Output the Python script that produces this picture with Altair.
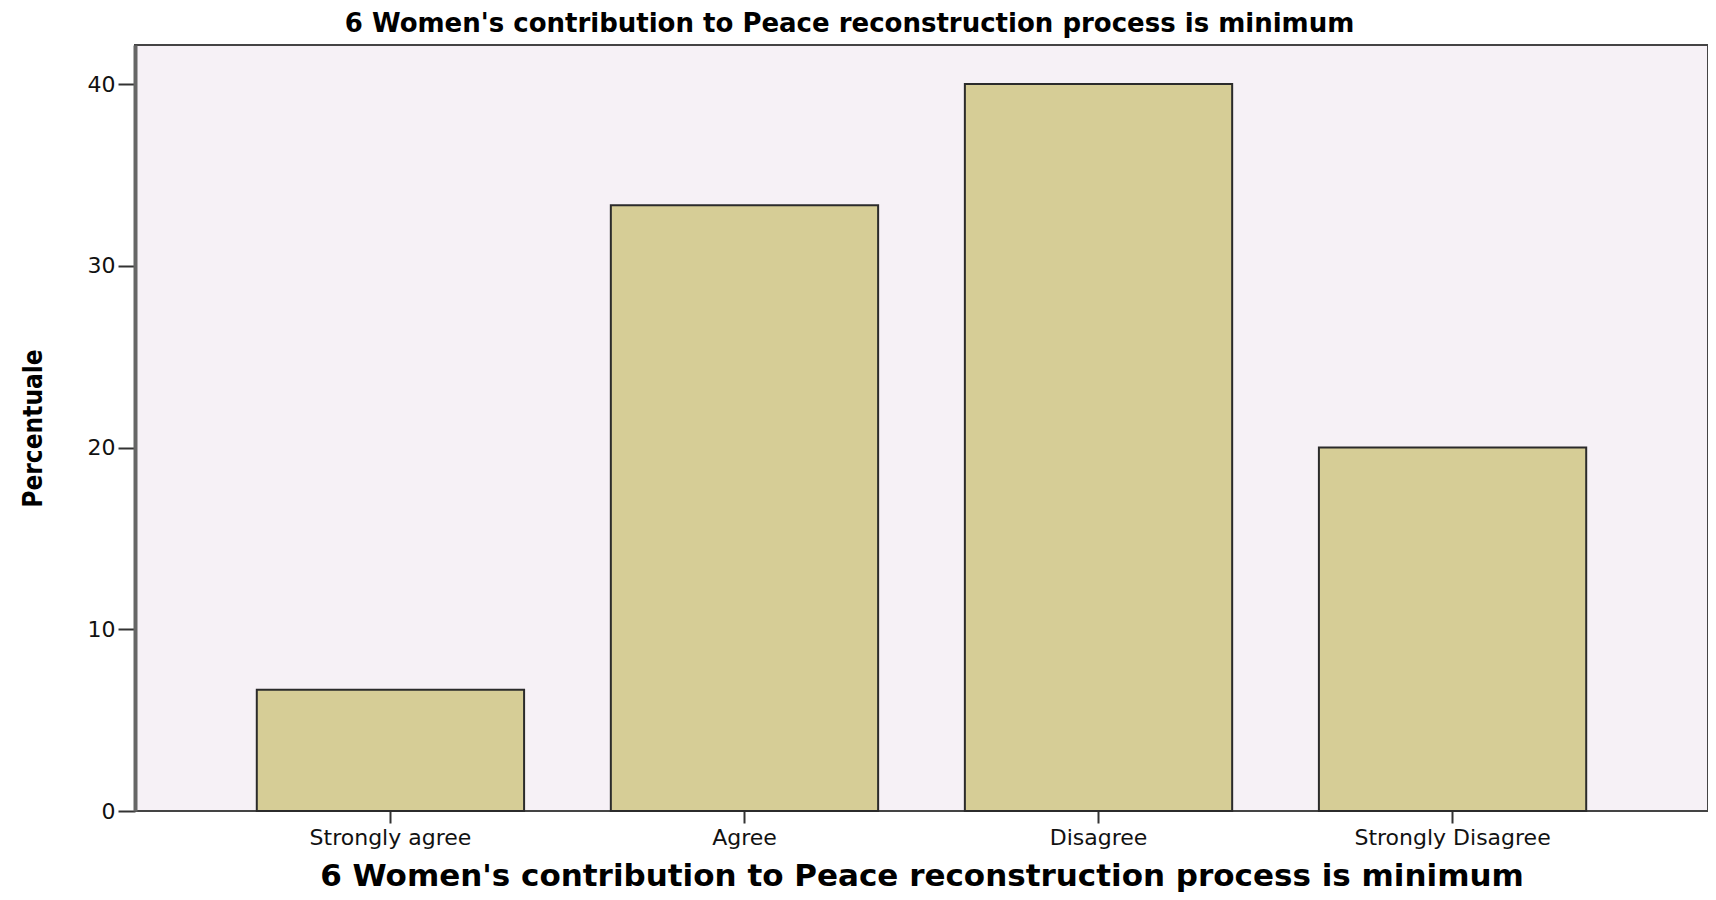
import altair as alt
import pandas as pd

categories = ["Strongly agree", "Agree", "Disagree", "Strongly Disagree"]
percentages = [6.67, 33.33, 40.0, 20.0]
y_ticks = [0, 10, 20, 30, 40]
title_text = "6 Women's contribution to Peace reconstruction process is minimum"
y_title = "Percentuale"

df = pd.DataFrame({"category": categories, "pct": percentages})

chart = alt.Chart(df).mark_bar(
    color="#D6CD96", stroke="#2B2B2B", strokeWidth=2
).encode(
    x=alt.X(
        "category:N", sort=categories,
        scale=alt.Scale(paddingInner=0.245, paddingOuter=0.344),
        axis=alt.Axis(
            title=title_text, labelAngle=0, labelFont="DejaVu Sans", labelFontSize=22,
            labelColor="#111", labelLimit=0, tickSize=12, tickWidth=2, tickColor="#333",
            domain=False, labelPadding=4, titleFont="DejaVu Sans", titleFontSize=31,
            titleFontWeight="bold", titleColor="#000", titleBaseline="alphabetic", titleY=74,
        ),
    ),
    y=alt.Y(
        "pct:Q", scale=alt.Scale(domain=[0, 42.15], nice=False),
        axis=alt.Axis(
            title=y_title, values=y_ticks, grid=False, labelFont="DejaVu Sans", labelFontSize=22,
            labelColor="#111", tickSize=17, tickWidth=2, tickColor="#333", labelPadding=3,
            domain=True, domainWidth=4, domainColor="#666",
            titleFont="DejaVu Sans Condensed, DejaVu Sans", titleFontSize=26, titleFontWeight="bold",
            titleColor="#000", titleX=-102, titleY=383, titleAngle=270, titleAlign="center",
            titleBaseline="middle",
        ),
    ),
).properties(
    width=1573, height=766,
    title=alt.TitleParams(
        text=title_text, font="DejaVu Sans", fontSize=26, fontWeight="bold", color="#000",
        anchor="middle", frame="group", dx=-72, offset=8,
    ),
    autosize=alt.AutoSizeParams(type="none"),
    padding={"left": 127, "top": 37, "right": 0, "bottom": 81},
).configure_view(fill="#F6F1F6", stroke="#444", strokeWidth=2)

chart.save("out.html", embed_options={"renderer": "svg", "actions": False})
